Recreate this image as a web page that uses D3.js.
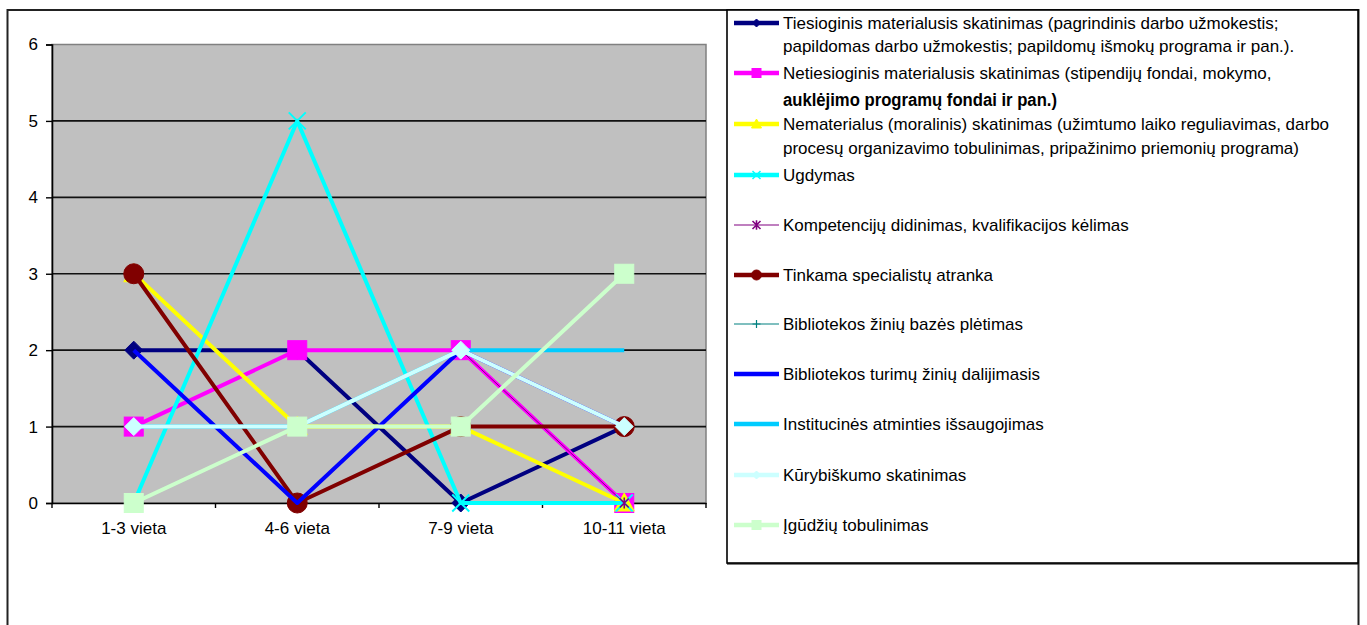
<!DOCTYPE html>
<html>
<head>
<meta charset="utf-8">
<script src="https://cdn.jsdelivr.net/npm/d3@7"></script>
<style>
  html, body { margin: 0; padding: 0; background: #fff; }
  svg { display: block; font-family: "Liberation Sans", Arial, sans-serif; }
</style>
</head>
<body>
<svg id="chart" width="1367" height="625"></svg>
<script>
// Categories (ranking positions) and y-axis ticks
const categories = ["1-3 vieta", "4-6 vieta", "7-9 vieta", "10-11 vieta"];
const yTicks = [0, 1, 2, 3, 4, 5, 6];

// Number of answers per ranking position, one array per motivation measure
const tiesioginis   = [2, 2, 0, 1];
const netiesioginis = [1, 2, 2, 0];
const nematerialus  = [3, 1, 1, 0];
const ugdymas       = [0, 5, 0, 0];
const kompetenciju  = [1, 1, 2, 0];
const tinkama       = [3, 0, 1, 1];
const ziniuBaze     = [1, 1, 2, 1];
const turimuZiniu   = [2, 0, 2, 1];
const institucines  = [1, 1, 2, 2];
const kurybiskumo   = [1, 1, 2, 1];
const igudziu       = [0, 1, 1, 3];

// Legend labels (each entry: list of text lines)
const legendLabels = [
  ["Tiesioginis materialusis skatinimas (pagrindinis darbo užmokestis;",
   "papildomas darbo užmokestis; papildomų išmokų programa ir pan.)."],
  ["Netiesioginis materialusis skatinimas (stipendijų fondai, mokymo,",
   "auklėjimo programų fondai ir pan.)"],
  ["Nematerialus (moralinis) skatinimas (užimtumo laiko reguliavimas, darbo",
   "procesų organizavimo tobulinimas, pripažinimo priemonių programa)"],
  ["Ugdymas"],
  ["Kompetencijų didinimas, kvalifikacijos kėlimas"],
  ["Tinkama specialistų atranka"],
  ["Bibliotekos žinių bazės plėtimas"],
  ["Bibliotekos turimų žinių dalijimasis"],
  ["Institucinės atminties išsaugojimas"],
  ["Kūrybiškumo skatinimas"],
  ["Įgūdžių tobulinimas"]
];

const seriesValues = [tiesioginis, netiesioginis, nematerialus, ugdymas, kompetenciju,
  tinkama, ziniuBaze, turimuZiniu, institucines, kurybiskumo, igudziu];

// Visual style per series
const seriesStyle = [
  { color: "#000080", width: 4, marker: "diamond" },
  { color: "#FF00FF", width: 4, marker: "square" },
  { color: "#FFFF00", width: 4, marker: "triangle" },
  { color: "#00FFFF", width: 4, marker: "x" },
  { color: "#800080", width: 1, marker: "asterisk" },
  { color: "#800000", width: 4, marker: "circle" },
  { color: "#008080", width: 1, marker: "plus" },
  { color: "#0000FF", width: 4, marker: "none" },
  { color: "#00CCFF", width: 4, marker: "none" },
  { color: "#CCFFFF", width: 4, marker: "diamond" },
  { color: "#CCFFCC", width: 4, marker: "square" }
];

const series = seriesValues.map((vals, i) => ({
  label: legendLabels[i],
  style: seriesStyle[i],
  points: vals.map((v, j) => ({ cat: categories[j], value: v }))
}));

const svg = d3.select("#chart");

// Chart frame
svg.append("rect")
  .attr("x", 7.5).attr("y", 10).attr("width", 1351).attr("height", 640)
  .attr("fill", "#fff").attr("stroke", "#222").attr("stroke-width", 2);

// Plot area
const plot = { left: 52, top: 44.5, right: 706, bottom: 503 };
const x = d3.scaleBand().domain(categories).range([plot.left, plot.right]).padding(0);
const y = d3.scaleLinear().domain([0, 6]).range([plot.bottom, plot.top]);
const cx = c => x(c) + x.bandwidth() / 2;

svg.append("rect")
  .attr("x", plot.left).attr("y", plot.top)
  .attr("width", plot.right - plot.left).attr("height", plot.bottom - plot.top)
  .attr("fill", "#C0C0C0").attr("stroke", "#808080").attr("stroke-width", 1.5);

// Horizontal gridlines
svg.append("g").selectAll("line")
  .data(yTicks.filter(t => t > 0 && t < 6))
  .join("line")
  .attr("x1", plot.left).attr("x2", plot.right)
  .attr("y1", d => y(d)).attr("y2", d => y(d))
  .attr("stroke", "#111").attr("stroke-width", 1.6);

// Y axis
const yAxis = svg.append("g")
  .attr("transform", `translate(${plot.left},0)`)
  .call(d3.axisLeft(y).tickValues(yTicks).tickFormat(d3.format("d")).tickSize(6).tickPadding(8));
yAxis.select(".domain").attr("stroke", "#000").attr("stroke-width", 1.6);
yAxis.selectAll(".tick line").attr("stroke", "#000").attr("stroke-width", 1.4);
yAxis.selectAll(".tick text").attr("font-size", 17).attr("fill", "#000")
  .attr("font-family", "Liberation Sans, Arial, sans-serif");

// X axis: labels at category centres, ticks between categories
const xAxis = svg.append("g")
  .attr("transform", `translate(0,${plot.bottom})`)
  .call(d3.axisBottom(x).tickSize(0).tickPadding(19));
xAxis.select(".domain").attr("stroke", "#000").attr("stroke-width", 1.6);
xAxis.selectAll(".tick text").attr("font-size", 17).attr("fill", "#000")
  .attr("font-family", "Liberation Sans, Arial, sans-serif");
xAxis.selectAll("line.boundary")
  .data(d3.range(categories.length + 1))
  .join("line").attr("class", "boundary")
  .attr("x1", i => plot.left + i * x.step()).attr("x2", i => plot.left + i * x.step())
  .attr("y1", 0).attr("y2", 5)
  .attr("stroke", "#000").attr("stroke-width", 1.4);

// Marker drawing
function drawMarker(g, type, color, r) {
  switch (type) {
    case "diamond":
      g.append("path").attr("d", `M0,${-r}L${r},0L0,${r}L${-r},0Z`)
        .attr("fill", color).attr("stroke", color).attr("stroke-width", 1);
      break;
    case "square":
      g.append("rect").attr("x", -r).attr("y", -r).attr("width", 2 * r).attr("height", 2 * r)
        .attr("fill", color).attr("stroke", color).attr("stroke-width", 1);
      break;
    case "triangle":
      g.append("path").attr("d", `M0,${-r}L${r},${r * 0.8}L${-r},${r * 0.8}Z`)
        .attr("fill", color).attr("stroke", color).attr("stroke-width", 1);
      break;
    case "circle":
      g.append("circle").attr("r", r).attr("fill", color).attr("stroke", color);
      break;
    case "x":
      g.append("path").attr("d", `M${-r},${-r}L${r},${r}M${-r},${r}L${r},${-r}`)
        .attr("stroke", color).attr("stroke-width", r > 5 ? 2 : 1.5).attr("fill", "none");
      break;
    case "asterisk":
      g.append("path").attr("d", `M${-r},${-r}L${r},${r}M${-r},${r}L${r},${-r}M0,${-r * 1.2}L0,${r * 1.2}`)
        .attr("stroke", color).attr("stroke-width", 1.6).attr("fill", "none");
      break;
    case "plus":
      g.append("path").attr("d", `M${-r},0L${r},0M0,${-r}L0,${r}`)
        .attr("stroke", color).attr("stroke-width", 1.2).attr("fill", "none");
      break;
  }
}

const markerRadius = { diamond: 9, square: 9.5, triangle: 10, circle: 10, x: 8.5, asterisk: 4.5, plus: 4.5, none: 0 };
const legendMarkerRadius = { diamond: 4, square: 4.5, triangle: 5, circle: 5, x: 4, asterisk: 4, plus: 4, none: 0 };

// Series: line then markers, in series order
const line = d3.line().x(d => cx(d.cat)).y(d => y(d.value));
const seriesG = svg.append("g");
series.forEach(s => {
  const g = seriesG.append("g");
  g.append("path").datum(s.points)
    .attr("d", line)
    .attr("fill", "none")
    .attr("stroke", s.style.color)
    .attr("stroke-width", s.style.width)
    .attr("stroke-linejoin", "round");
  if (s.style.marker !== "none") {
    s.points.forEach(p => {
      const mg = g.append("g").attr("transform", `translate(${cx(p.cat)},${y(p.value)})`);
      drawMarker(mg, s.style.marker, s.style.color, markerRadius[s.style.marker]);
    });
  }
});

// Legend
const legend = { left: 727, top: 10, right: 1358, bottom: 563 };
svg.append("rect")
  .attr("x", legend.left).attr("y", legend.top)
  .attr("width", legend.right - legend.left).attr("height", legend.bottom - legend.top)
  .attr("fill", "#fff").attr("stroke", "#000").attr("stroke-width", 1.6);
svg.append("line")
  .attr("x1", legend.left).attr("x2", legend.right)
  .attr("y1", legend.bottom + 0.8).attr("y2", legend.bottom + 0.8)
  .attr("stroke", "#000").attr("stroke-width", 1.2);

// Row centres of the first text line of each legend entry
const legendRowY = [23, 73, 124, 175, 225, 275, 324, 374, 424, 475, 525];
const lineGap = [23, 27, 24];

const lg = svg.append("g");
series.forEach((s, i) => {
  const ry = legendRowY[i];
  const g = lg.append("g");
  g.append("line")
    .attr("x1", 734).attr("x2", 779).attr("y1", ry).attr("y2", ry)
    .attr("stroke", s.style.color).attr("stroke-width", s.style.width === 1 ? 1.2 : 4.5);
  if (s.style.marker !== "none") {
    const mg = g.append("g").attr("transform", `translate(756.5,${ry})`);
    drawMarker(mg, s.style.marker, s.style.color, legendMarkerRadius[s.style.marker]);
  }
  s.label.forEach((txt, k) => {
    const bold = (i === 1 && k === 1);
    const t = g.append("text")
      .attr("x", 783)
      .attr("y", ry + (k ? (lineGap[i] || 24) : 0))
      .attr("dy", "0.36em")
      .attr("font-size", bold ? 18 : 17)
      .attr("font-weight", bold ? "bold" : "normal")
      .attr("fill", "#000")
      .text(txt);
    if (bold) t.attr("textLength", 274).attr("lengthAdjust", "spacingAndGlyphs");
  });
});
</script>
</body>
</html>
